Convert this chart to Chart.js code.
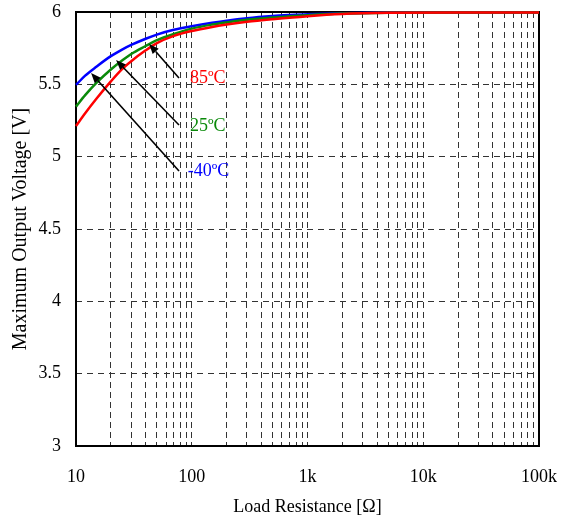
<!DOCTYPE html>
<html><head><meta charset="utf-8">
<script src="https://cdn.jsdelivr.net/npm/chart.js@4.4.0/dist/chart.umd.min.js"></script>
<style>html,body{margin:0;padding:0;background:#fff;}#wrap{width:571px;height:523px;}</style>
</head><body><div id="wrap"><canvas id="c" width="571" height="523"></canvas></div>
<script>
// ---- data ----
const resistance = [10, 12, 15, 20, 25, 30, 40, 50, 70, 100, 150, 200, 300, 500, 700, 1000, 2000, 5000, 20000, 100000];
const vMinus40 = [5.496, 5.56, 5.622, 5.695, 5.74, 5.772, 5.815, 5.844, 5.877, 5.901, 5.925, 5.94, 5.957, 5.972, 5.979, 5.985, 5.992, 5.996, 5.997, 5.997];
const v25      = [5.346, 5.425, 5.51, 5.603, 5.665, 5.71, 5.765, 5.805, 5.848, 5.885, 5.913, 5.928, 5.946, 5.962, 5.97, 5.978, 5.989, 5.995, 5.997, 5.997];
const v85      = [5.212, 5.30, 5.40, 5.52, 5.605, 5.66, 5.735, 5.785, 5.835, 5.869, 5.897, 5.913, 5.932, 5.95, 5.96, 5.971, 5.986, 5.994, 5.997, 5.997];
const seriesNames = ['85ºC', '25ºC', '-40ºC'];
const xMajorTicks = [10, 100, 1000, 10000, 100000];
const xMajorLabels = ['10', '100', '1k', '10k', '100k'];
const yTicks = [3, 3.5, 4, 4.5, 5, 5.5, 6];
const yTickLabels = ['3', '3.5', '4', '4.5', '5', '5.5', '6'];
const xTitle = 'Load Resistance [Ω]';
const yTitle = 'Maximum Output Voltage [V]';

// ---- styling / annotation layout ----
const colors = ['#ff0000', '#0a8a0a', '#0000ff'];
const FONT = "'Liberation Serif', 'Times New Roman', serif";
const notes = [
  {text: seriesNames[0], color: colors[0], tx: 96.6, ty: 5.54, fx: 77.6, fy: 5.544, hx: 42.8, hy: 5.779},
  {text: seriesNames[1], color: colors[1], tx: 96.6, ty: 5.212, fx: 77.6, fy: 5.219, hx: 22.2, hy: 5.668},
  {text: seriesNames[2], color: colors[2], tx: 92.3, ty: 4.896, fx: 77.6, fy: 4.901, hx: 13.5, hy: 5.578}
];

const xGrid = [];
for (let d = 0; d < xMajorTicks.length - 1; d++) {
  for (let m = 1; m <= 9; m++) xGrid.push(xMajorTicks[d] * m);
}
xGrid.push(xMajorTicks[xMajorTicks.length - 1]);

function pts(ys) { return resistance.map((x, i) => ({x: x, y: ys[i]})); }

const framePlugin = {
  id: 'frame',
  beforeDatasetsDraw(chart) {
    const {ctx, chartArea: a} = chart;
    ctx.save();
    ctx.strokeStyle = '#000';
    ctx.lineWidth = 2;
    ctx.setLineDash([]);
    ctx.strokeRect(a.left, a.top, a.right - a.left, a.bottom - a.top);
    ctx.restore();
  },
  afterDatasetsDraw(chart) {
    const {ctx} = chart;
    const xs = chart.scales.x, ys = chart.scales.y;
    ctx.save();
    notes.forEach(n => {
      const fx = xs.getPixelForValue(n.fx), fy = ys.getPixelForValue(n.fy);
      const hx = xs.getPixelForValue(n.hx), hy = ys.getPixelForValue(n.hy);
      const ang = Math.atan2(hy - fy, hx - fx);
      const L = 10, W = 4;
      const bx = hx - L * Math.cos(ang), by = hy - L * Math.sin(ang);
      ctx.strokeStyle = '#000';
      ctx.fillStyle = '#000';
      ctx.lineWidth = 1.6;
      ctx.beginPath();
      ctx.moveTo(fx, fy);
      ctx.lineTo(bx, by);
      ctx.stroke();
      ctx.beginPath();
      ctx.moveTo(hx, hy);
      ctx.lineTo(bx + W * Math.sin(ang), by - W * Math.cos(ang));
      ctx.lineTo(bx - W * Math.sin(ang), by + W * Math.cos(ang));
      ctx.closePath();
      ctx.fill();
      ctx.font = '18px ' + FONT;
      ctx.fillStyle = n.color;
      ctx.textAlign = 'left';
      ctx.textBaseline = 'middle';
      ctx.fillText(n.text, xs.getPixelForValue(n.tx), ys.getPixelForValue(n.ty));
    });
    ctx.restore();
  }
};

new Chart(document.getElementById('c'), {
  type: 'line',
  data: {
    datasets: [
      {label: seriesNames[0], data: pts(v85), borderColor: colors[0]},
      {label: seriesNames[1], data: pts(v25), borderColor: colors[1]},
      {label: seriesNames[2], data: pts(vMinus40), borderColor: colors[2]}
    ].map(d => Object.assign(d, {borderWidth: 2.5, pointRadius: 0, fill: false, cubicInterpolationMode: 'monotone', clip: 4}))
  },
  options: {
    responsive: false,
    animation: false,
    devicePixelRatio: 1,
    layout: {padding: {left: 0, top: 12, right: 32, bottom: 0}},
    plugins: {legend: {display: false}, tooltip: {enabled: false}},
    scales: {
      x: {
        type: 'logarithmic',
        min: 10, max: 100000,
        afterBuildTicks(s) { s.ticks = xGrid.map(v => ({value: v})); },
        afterFit(s) { s.height = 77; s.paddingLeft = 0; s.paddingRight = 0; },
        ticks: {
          autoSkip: false, maxRotation: 0, minRotation: 0, padding: 20, color: '#000',
          font: {family: FONT, size: 18},
          callback(v) { const i = xMajorTicks.indexOf(v); return i >= 0 ? xMajorLabels[i] : ''; }
        },
        grid: {color: '#333', lineWidth: 1, drawTicks: false},
        border: {display: false, dash: [6, 4]},
        title: {display: true, text: xTitle, color: '#000', font: {family: FONT, size: 18}, padding: 5}
      },
      y: {
        type: 'linear',
        min: 3, max: 6,
        afterBuildTicks(s) { s.ticks = yTicks.map(v => ({value: v})); },
        afterFit(s) { s.width = 76; s.paddingTop = 0; s.paddingBottom = 0; },
        ticks: {
          padding: 15, color: '#000', font: {family: FONT, size: 18},
          callback(v) { const i = yTicks.indexOf(v); return i >= 0 ? yTickLabels[i] : ''; }
        },
        grid: {color: '#333', lineWidth: 1, drawTicks: false},
        border: {display: false, dash: [6, 5]},
        title: {display: true, text: yTitle, color: '#000', font: {family: FONT, size: 20}, padding: 9}
      }
    }
  },
  plugins: [framePlugin]
});
</script>
</body></html>
